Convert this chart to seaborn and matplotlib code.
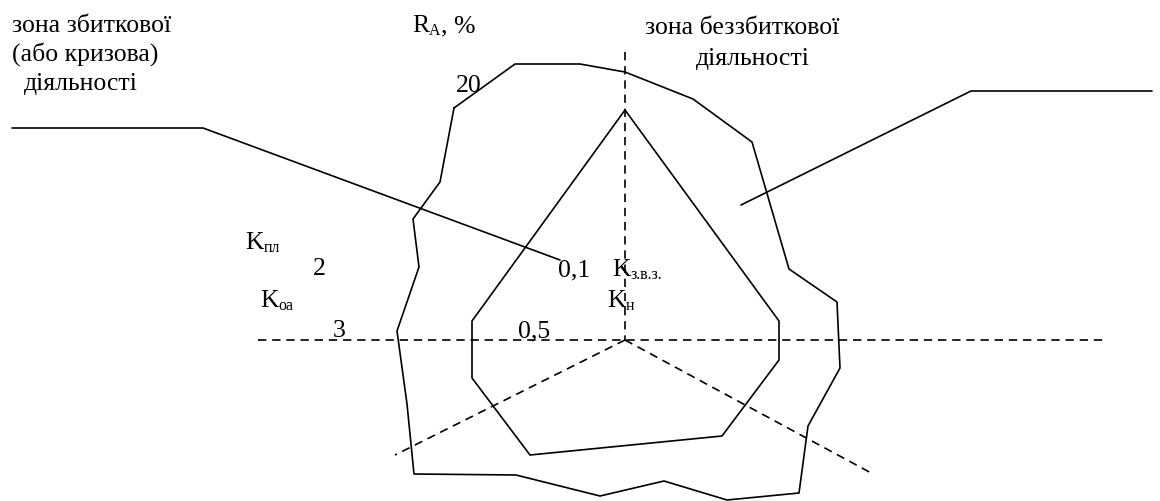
import matplotlib
matplotlib.use('Agg')
import matplotlib.pyplot as plt
import seaborn as sns
import pandas as pd

sns.set_style('white')
plt.rcParams['font.family'] = ['Liberation Serif', 'DejaVu Serif']
plt.rcParams['text.color'] = 'black'

# outer contour (zone of profitable activity) and inner contour, pixel coords of the scheme
outer_x = [454, 515, 580, 625, 693, 752, 789, 837, 840, 808, 799, 727, 664, 600, 516, 414, 407, 397, 419, 413, 440, 454]
outer_y = [109, 65, 65, 73, 100, 143, 270, 303, 369, 427, 494, 501, 482, 497, 476, 475, 405, 332, 268, 220, 183, 109]
inner_x = [625, 779, 779, 722, 530, 472, 472, 625]
inner_y = [111, 322, 361, 437, 456, 379, 322, 111]

# dashed axes from the centre
axes_x = [[625, 625], [258, 1105], [625, 395], [625, 873]]
axes_y = [[53, 341], [341, 341], [341, 456], [341, 475]]

# leader lines to the zone captions
leader_left_x = [12, 203, 560]
leader_left_y = [129, 129, 261]
leader_right_x = [741, 971, 1152]
leader_right_y = [206, 92, 92]

zone_left = ['зона збиткової', '(або кризова)', 'діяльності']
zone_left_pos = [(12, 32), (12, 61), (24, 90)]
zone_right = ['зона беззбиткової', 'діяльності']
zone_right_pos = [(645, 34), (696, 65)]

numbers = ['20', '2', '3', '0,5', '0,1']
numbers_pos = [(456, 92), (313, 275), (333, 337), (518, 337), (558, 276)]

# labels with subscripts: (main, subscript, tail)
sub_labels = [('R', 'A', ', %'), ('K', 'пл', ''), ('K', 'оа', ''), ('K', 'з.в.з.', ''), ('K', 'н', '')]
sub_labels_pos = [(412, 32), (245, 249), (260, 307), (612, 276), (607, 307)]

fs = 18.5
fig = plt.figure(figsize=(11.6, 5.02), dpi=100)
ax = fig.add_axes([0, 0, 1, 1])

lw = 1.2
sns.lineplot(x=outer_x, y=outer_y, sort=False, estimator=None, color='black', lw=lw, ax=ax)
sns.lineplot(x=inner_x, y=inner_y, sort=False, estimator=None, color='black', lw=lw, ax=ax)
for xs, ys in zip(axes_x, axes_y):
    sns.lineplot(x=xs, y=ys, sort=False, estimator=None, color='black', lw=lw,
                 linestyle=(0, (5, 3.5)), ax=ax)
sns.lineplot(x=leader_left_x, y=leader_left_y, sort=False, estimator=None, color='black', lw=lw, ax=ax)
sns.lineplot(x=leader_right_x, y=leader_right_y, sort=False, estimator=None, color='black', lw=lw, ax=ax)

ax.set_xlim(0, 1160)
ax.set_ylim(502, 0)
ax.axis('off')

for t, (x, y) in zip(zone_left + zone_right + numbers, zone_left_pos + zone_right_pos + numbers_pos):
    ax.text(x, y, t, fontsize=fs, va='baseline', ha='left', color='black')

renderer = fig.canvas.get_renderer()
for (main, sub, tail), (x, y) in zip(sub_labels, sub_labels_pos):
    t1 = ax.text(x, y, main, fontsize=fs, va='baseline', ha='left', color='black')
    w1 = t1.get_window_extent(renderer).width
    t2 = ax.text(x + w1, y + 3, sub, fontsize=fs * 0.62, va='baseline', ha='left', color='black')
    w2 = t2.get_window_extent(renderer).width
    if tail:
        ax.text(x + w1 + w2, y, tail, fontsize=fs, va='baseline', ha='left', color='black')

fig.savefig('out.png', dpi=100)
